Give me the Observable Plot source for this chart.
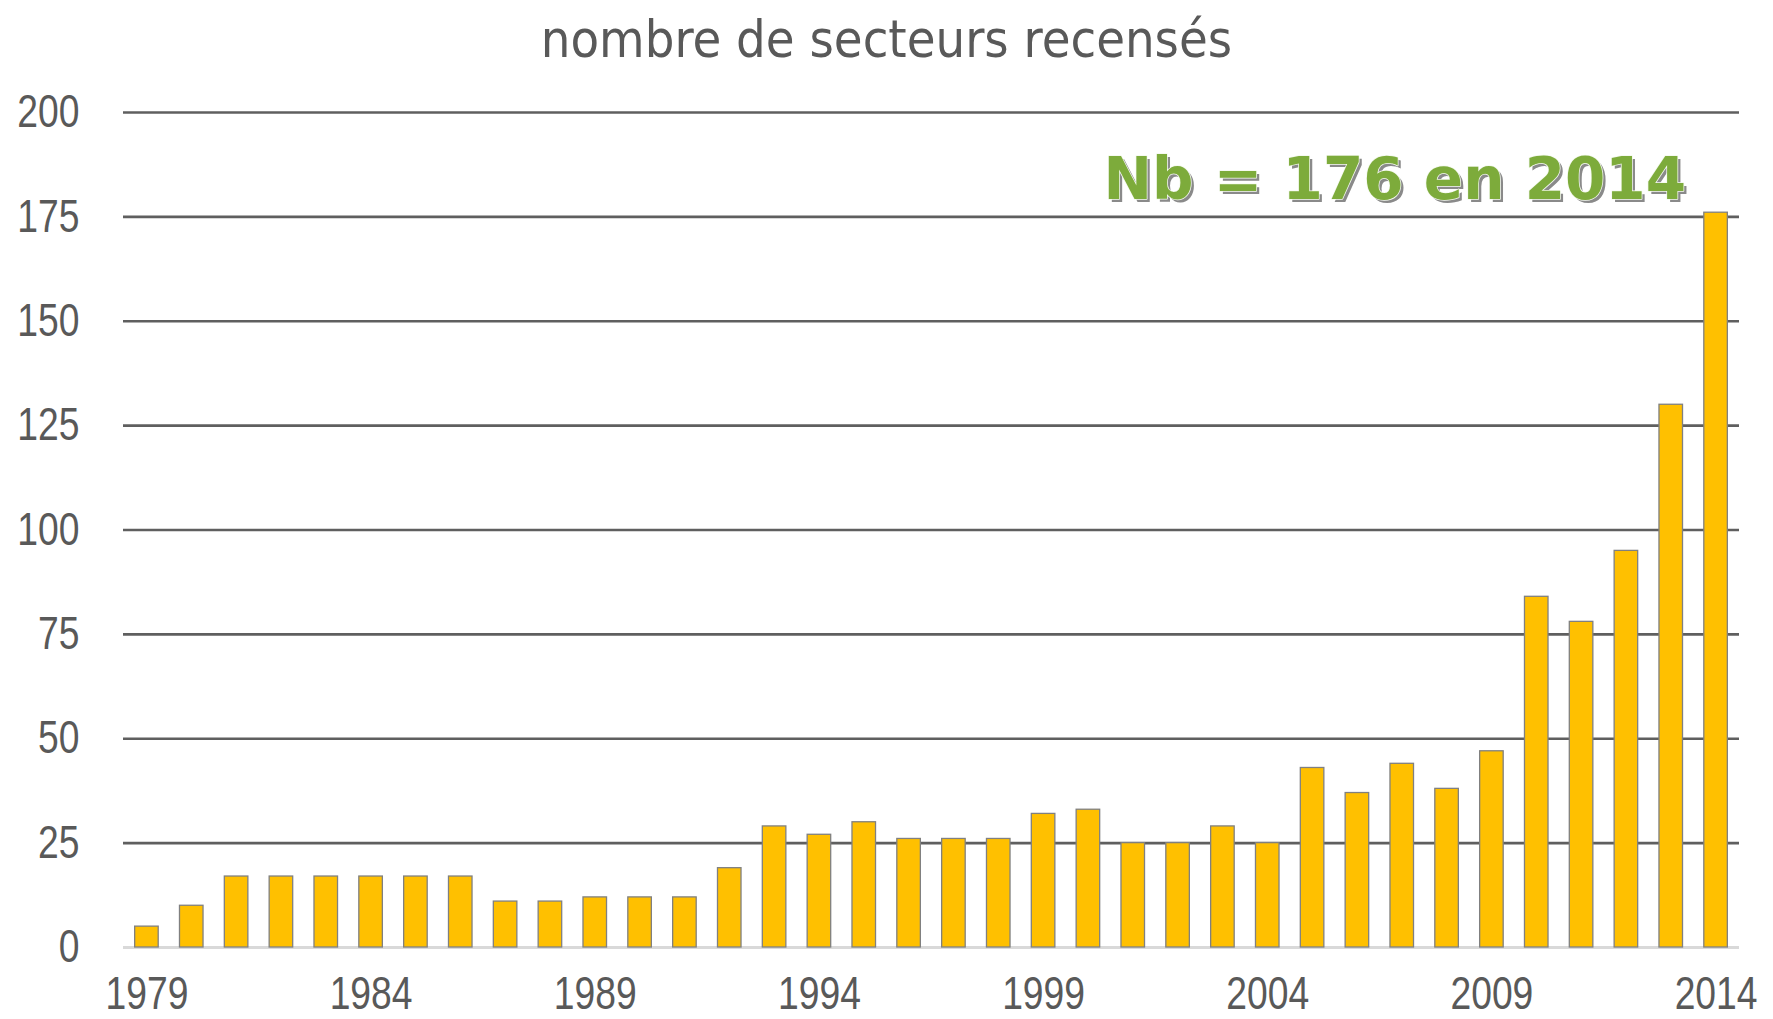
<!DOCTYPE html>
<html>
<head>
<meta charset="utf-8">
<script src="https://cdn.jsdelivr.net/npm/d3@7"></script>
<script src="https://cdn.jsdelivr.net/npm/@observablehq/plot@0.6"></script>
<style>
  html, body { margin: 0; padding: 0; background: #ffffff; }
  #wrap { width: 1773px; height: 1019px; position: relative; overflow: hidden; }
  #title {
    position: absolute; left: 0; top: 7px; width: 1773px; text-align: center;
    font-family: "DejaVu Sans Condensed", "DejaVu Sans", sans-serif;
    font-stretch: condensed;
    font-size: 52px; color: #595959; line-height: 64px;
  }
  #chart { position: absolute; left: 0; top: 80px; }
</style>
</head>
<body>
<div id="wrap">
  <div id="title">nombre de secteurs recensés</div>
  <div id="chart"></div>
</div>
<script>
const years = [1979, 1980, 1981, 1982, 1983, 1984, 1985, 1986, 1987, 1988, 1989, 1990,
               1991, 1992, 1993, 1994, 1995, 1996, 1997, 1998, 1999, 2000, 2001, 2002,
               2003, 2004, 2005, 2006, 2007, 2008, 2009, 2010, 2011, 2012, 2013, 2014];
const counts = [5, 10, 17, 17, 17, 17, 17, 17, 11, 11, 12, 12,
                12, 19, 29, 27, 30, 26, 26, 26, 32, 33, 25, 25,
                29, 25, 43, 37, 44, 38, 47, 84, 78, 95, 130, 176];
const yTicks = [0, 25, 50, 75, 100, 125, 150, 175, 200];
const gridValues = [25, 50, 75, 100, 125, 150, 175, 200];
const xTickLabels = [1979, 1984, 1989, 1994, 1999, 2004, 2009, 2014];
const annotationText = ["Nb = 176 en 2014"];
const annotationYear = [2014];
const annotationValue = [176];

const data = years.map((y, i) => ({year: y, count: counts[i]}));
const note = annotationText.map((t, i) => ({text: t, year: annotationYear[i], value: annotationValue[i]}));

const tickFont = '"Liberation Sans", Arial, sans-serif';
const grey = "#595959";
const noteFont = '"DejaVu Sans", Verdana, sans-serif';

const chart = Plot.plot({
  width: 1773,
  height: 939,
  marginLeft: 123,
  marginRight: 34,
  marginTop: 32,
  marginBottom: 72,
  style: {fontFamily: tickFont, fontSize: "46px", color: grey, background: "transparent", overflow: "visible"},
  x: {type: "band", domain: years, paddingInner: 0.475, paddingOuter: 0.26, round: false, label: null},
  y: {domain: [0, 200], label: null},
  marks: [
    Plot.ruleY(gridValues, {stroke: "#5f5f5f", strokeWidth: 2.6}),
    Plot.ruleY([0], {stroke: "#d9d9d9", strokeWidth: 3}),
    Plot.barY(data, {x: "year", y: "count", fill: "#FFC000", stroke: "#808080", strokeWidth: 1.3}),
    Plot.axisY({ticks: yTicks, tickSize: 0, tickPadding: 44, fontSize: 46, fill: grey, label: null}),
    Plot.axisX({ticks: xTickLabels, tickSize: 0, tickPadding: 29, fontSize: 46, fill: grey, label: null,
      tickFormat: d => `${d}`}),
    Plot.text(note, {x: "year", y: "value", text: "text", textAnchor: "end", lineAnchor: "bottom",
      dx: -27, dy: -11, fill: "#8a8a8a", fontSize: 58, fontWeight: "bold", fontFamily: noteFont}),
    Plot.text(note, {x: "year", y: "value", text: "text", textAnchor: "end", lineAnchor: "bottom",
      dx: -30, dy: -14, fill: "#7DAB3B", stroke: "#f4f9ee", strokeWidth: 1.5, paintOrder: "stroke",
      fontSize: 58, fontWeight: "bold", fontFamily: noteFont})
  ]
});

// condense the tick label glyphs horizontally (narrow font look of the reference)
chart.querySelectorAll('g[aria-label="y-axis tick label"] text, g[aria-label="x-axis tick label"] text').forEach(t => {
  let tr = t.getAttribute("transform");
  if (!tr) {
    const x = t.getAttribute("x") || 0, y = t.getAttribute("y") || 0;
    t.removeAttribute("x"); t.removeAttribute("y");
    tr = `translate(${x},${y})`;
  }
  t.setAttribute("transform", tr + " scale(0.81,1)");
});
document.getElementById("chart").appendChild(chart);
</script>
</body>
</html>
